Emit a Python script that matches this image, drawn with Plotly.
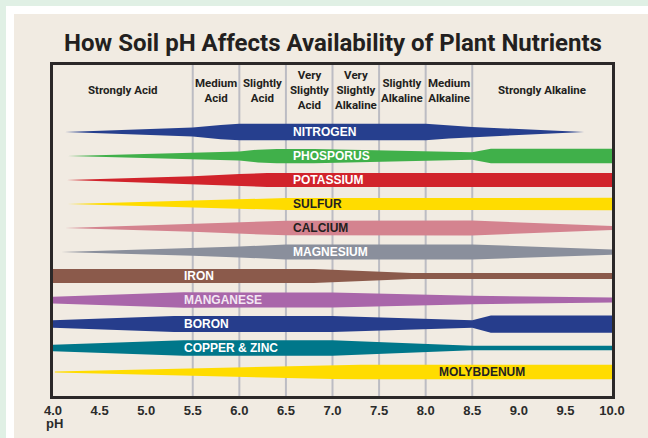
import plotly.graph_objects as go

# ---------------- data ----------------
title_text = "How Soil pH Affects Availability of Plant Nutrients"

zone_bounds = [4.0, 5.5, 6.0, 6.5, 7.0, 7.5, 8.0, 8.5, 10.0]
zone_names = ["Strongly Acid", "Medium<br>Acid", "Slightly<br>Acid",
              "Very<br>Slightly<br>Acid", "Very<br>Slightly<br>Alkaline",
              "Slightly<br>Alkaline", "Medium<br>Alkaline", "Strongly Alkaline"]

tick_vals = [4.0, 4.5, 5.0, 5.5, 6.0, 6.5, 7.0, 7.5, 8.0, 8.5, 9.0, 9.5, 10.0]
tick_text = ["4.0", "4.5", "5.0", "5.5", "6.0", "6.5", "7.0", "7.5", "8.0", "8.5", "9.0", "9.5", "10.0"]

nutrients = ["NITROGEN", "PHOSPORUS", "POTASSIUM", "SULFUR", "CALCIUM", "MAGNESIUM",
             "IRON", "MANGANESE", "BORON", "COPPER & ZINC", "MOLYBDENUM"]

band_colors = ["#263f8e", "#40b04a", "#d1232b", "#ffdc00", "#d4838f", "#8a8f9c",
               "#8b5a4b", "#a966aa", "#263d8c", "#00778a", "#ffdc00"]
text_colors = ["#ffffff", "#ffffff", "#ffffff", "#231f20", "#231f20", "#ffffff",
               "#ffffff", "#f3e6f3", "#ffffff", "#ffffff", "#231f20"]

# availability (relative band width) along pH
nitrogen_ph = [4.13, 5.5, 5.8, 6.0, 8.0, 8.25, 8.5, 9.7]
nitrogen_w = [0.0, 0.6, 0.95, 1.1, 1.1, 0.85, 0.67, 0.0]
phosphorus_ph = [4.16, 5.5, 6.0, 6.2, 6.4, 6.8, 8.5, 8.7, 10.0]
phosphorus_w = [0.0, 0.42, 0.6, 0.85, 0.95, 0.95, 0.49, 0.98, 0.98]
potassium_ph = [4.15, 5.5, 6.0, 6.3, 10.0]
potassium_w = [0.0, 0.51, 0.8, 0.93, 0.93]
sulfur_ph = [4.16, 5.5, 6.0, 6.5, 10.0]
sulfur_w = [0.0, 0.45, 0.63, 0.8, 0.82]
calcium_ph = [4.13, 5.5, 6.0, 6.5, 8.5, 10.0]
calcium_w = [0.0, 0.51, 0.75, 0.98, 1.0, 0.27]
magnesium_ph = [4.09, 5.5, 6.0, 6.5, 8.5, 10.0]
magnesium_w = [0.0, 0.5, 0.72, 1.0, 1.0, 0.35]
iron_ph = [4.0, 6.8, 7.85, 10.0]
iron_w = [0.93, 0.93, 0.4, 0.4]
manganese_ph = [4.0, 5.4, 7.0, 8.5, 10.0]
manganese_w = [0.45, 1.03, 1.0, 0.58, 0.33]
boron_ph = [4.0, 5.3, 7.0, 8.5, 8.7, 10.0]
boron_w = [0.5, 1.07, 1.07, 0.5, 1.15, 1.15]
copper_ph = [4.0, 5.4, 7.0, 8.5, 10.0]
copper_w = [0.42, 1.03, 1.03, 0.29, 0.29]
molybdenum_ph = [4.02, 7.0, 7.3, 10.0]
molybdenum_w = [0.08, 0.93, 0.97, 0.97]

band_ph = [nitrogen_ph, phosphorus_ph, potassium_ph, sulfur_ph, calcium_ph, magnesium_ph,
           iron_ph, manganese_ph, boron_ph, copper_ph, molybdenum_ph]
band_w = [nitrogen_w, phosphorus_w, potassium_w, sulfur_w, calcium_w, magnesium_w,
          iron_w, manganese_w, boron_w, copper_w, molybdenum_w]

# ---------------- layout constants ----------------
W, H = 648, 438
ML, MR, MT, MB = 53, 36, 65, 42
PW, PH = W - ML - MR, H - MT - MB
ROW_PX = 24.0
FULL_PX = 15.0
HALF = FULL_PX / ROW_PX / 2.0
Y_TOP = -(132 - MT) / ROW_PX
Y_BOT = Y_TOP + PH / ROW_PX

NARROW = "Roboto, Liberation Sans Narrow, sans-serif"
REG = "Liberation Sans, Arial, Helvetica, sans-serif"
DARK = "#231f20"


def px_x(p):
    return (p - ML) / PW


def px_y(p):
    return (H - MB - p) / PH


fig = go.Figure()

for k, (name, ph, w, col) in enumerate(zip(nutrients, band_ph, band_w, band_colors)):
    xs = list(ph) + list(ph)[::-1]
    ys = [k - v * HALF for v in w] + [k + v * HALF for v in w[::-1]]
    fig.add_trace(go.Scatter(x=xs, y=ys, mode="lines", fill="toself", fillcolor=col,
                             line=dict(width=0, color=col), hoverinfo="skip",
                             showlegend=False, name=name))

# band labels
for k, (name, tc) in enumerate(zip(nutrients, text_colors)):
    if k < 6:
        xa, anchor = 6.55, "left"
    elif k < 10:
        xa, anchor = 5.38, "left"
    else:
        xa, anchor = 8.6, "center"
    fig.add_annotation(x=xa, y=k, xref="x", yref="y", text="<b>" + name + "</b>",
                       showarrow=False, xanchor=anchor, yanchor="middle",
                       font=dict(family=REG, size=12, color=tc))

# zone header labels and boundaries
for i, zn in enumerate(zone_names):
    mid = (zone_bounds[i] + zone_bounds[i + 1]) / 2
    fig.add_annotation(x=mid, y=-1.75, xref="x", yref="y", text="<b>" + zn + "</b>",
                       showarrow=False, xanchor="center", yanchor="middle",
                       font=dict(family=NARROW, size=11.5, color=DARK))

shapes = []
for b in zone_bounds[1:-1]:
    shapes.append(dict(type="line", xref="x", yref="paper", x0=b, x1=b, y0=0, y1=1,
                       line=dict(color="#bcbcc3", width=2), layer="below"))

# outer frame strips (green + white)
shapes += [
    dict(type="rect", xref="paper", yref="paper", x0=px_x(0), x1=px_x(W), y0=px_y(6), y1=px_y(0),
         fillcolor="#e0f0e5", line=dict(width=0), layer="above"),
    dict(type="rect", xref="paper", yref="paper", x0=px_x(0), x1=px_x(6), y0=px_y(H), y1=px_y(0),
         fillcolor="#e0f0e5", line=dict(width=0), layer="above"),
    dict(type="rect", xref="paper", yref="paper", x0=px_x(6), x1=px_x(W), y0=px_y(14), y1=px_y(6),
         fillcolor="#ffffff", line=dict(width=0), layer="above"),
    dict(type="rect", xref="paper", yref="paper", x0=px_x(6), x1=px_x(14), y0=px_y(H), y1=px_y(6),
         fillcolor="#ffffff", line=dict(width=0), layer="above"),
]

fig.add_annotation(x=0, y=px_y(423), xref="paper", yref="paper", text="<b>pH</b>",
                   showarrow=False, xanchor="left", yanchor="middle", xshift=-9,
                   font=dict(family=REG, size=13, color="#2b2b2b"))

fig.update_layout(
    width=W, height=H,
    margin=dict(l=ML, r=MR, t=MT, b=MB, pad=0),
    paper_bgcolor="#f1ebe2", plot_bgcolor="#f1ebe2",
    title=dict(text="<b>" + title_text + "</b>", x=px_x(333), xref="paper", xanchor="center",
               y=1 - 43 / H, yref="container", yanchor="middle",
               font=dict(family=NARROW, size=24, color=DARK)),
    shapes=shapes,
    showlegend=False,
    xaxis=dict(range=[4.0, 10.0], tickvals=tick_vals, ticktext=["<b>" + t + "</b>" for t in tick_text],
               showgrid=False, zeroline=False, showline=True, mirror=True,
               linecolor="#2b2828", linewidth=3, ticks="",
               tickfont=dict(family=REG, size=13, color="#2b2b2b"),
               fixedrange=True),
    yaxis=dict(range=[Y_BOT, Y_TOP], showgrid=False, zeroline=False, showticklabels=False,
               showline=True, mirror=True, linecolor="#2b2828", linewidth=3, ticks="",
               fixedrange=True),
)

fig.write_html("out.html", config={"displayModeBar": False},
               post_script="document.body.style.margin='0';document.body.style.overflow='hidden';")
